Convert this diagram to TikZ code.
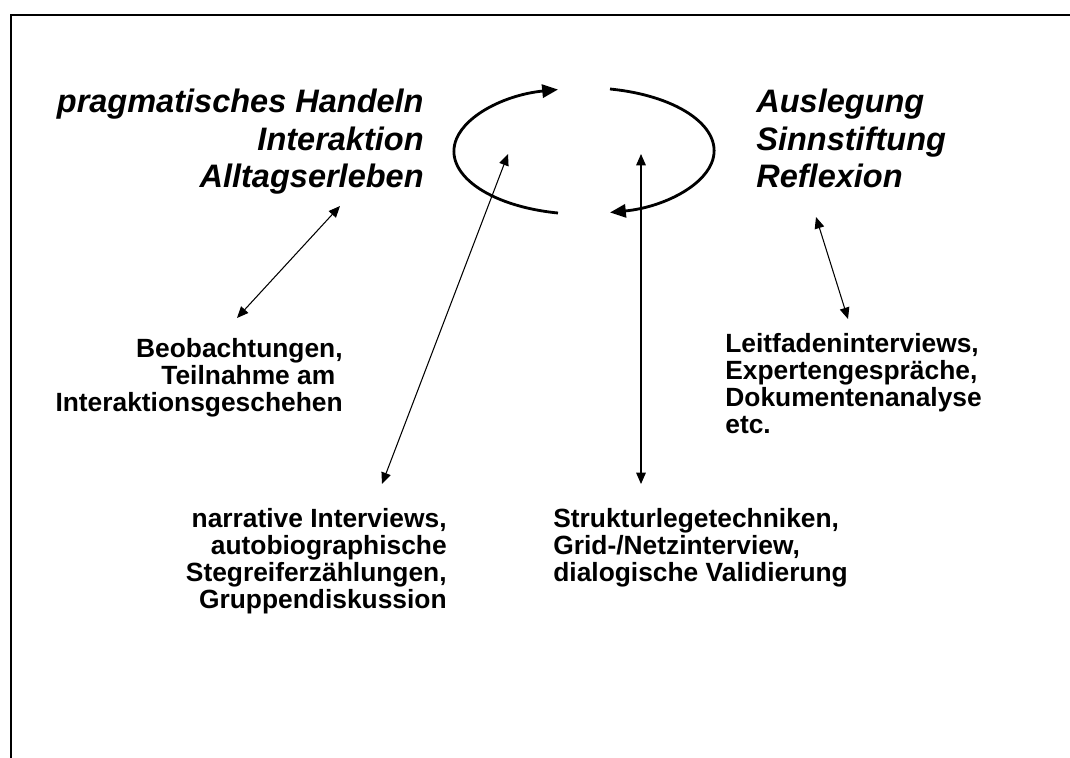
\documentclass[tikz,border=0pt]{standalone}
\usepackage{fontspec}
\setmainfont{Liberation Sans}
\usetikzlibrary{arrows.meta}

\begin{document}
\begin{tikzpicture}[x=0.2mm,y=-0.2mm]
    \tikzstyle{loopline}=[line width=1.6pt,-{Triangle[length=9pt,width=7.5pt]}]
    \tikzstyle{link}=[line width=0.6pt,{Triangle[length=6.5pt,width=5.5pt]}-{Triangle[length=6.5pt,width=5.5pt]}]
    \tikzstyle{topic}=[inner sep=0pt,font=\fontsize{18.5}{21.3}\selectfont\bfseries\itshape]
    \tikzstyle{method}=[inner sep=0pt,font=\fontsize{15}{15.4}\selectfont\bfseries]
    \useasboundingbox (0,0) rectangle (1070,757);
    \draw[line width=1.1pt] (11,760) -- (11,15) -- (1073,15);
    \draw (424,89) node(HANDELN) [topic,anchor=north east,align=right]
      {pragmatisches Handeln\\Interaktion\\Alltagserleben};
    \draw (756,89) node(AUSLEGUNG) [topic,anchor=north west,align=left]
      {Auslegung\\Sinnstiftung\\Reflexion};
    \draw[loopline] (558,213) arc[start angle=101.5,end angle=258.5,x radius=130,y radius=63];
    \draw[loopline] (610,89) arc[start angle=-78.5,end angle=78.5,x radius=130,y radius=63];
    \draw (343,338) node(BEOB) [method,anchor=north east,align=right]
      {Beobachtungen,\\Teilnahme am\kern0.28em\\Interaktionsgeschehen};
    \draw (725,333) node(LEITF) [method,anchor=north west,align=left]
      {Leitfadeninterviews,\\Expertengespräche,\\Dokumentenanalyse\\etc.};
    \draw (447,508) node(NARR) [method,anchor=north east,align=right]
      {narrative Interviews,\\autobiographische\\Stegreiferzählungen,\\Gruppendiskussion};
    \draw (553,508) node(STRUKT) [method,anchor=north west,align=left]
      {Strukturlegetechniken,\\Grid-/Netzinterview,\\dialogische Validierung};
    \coordinate (HANDELNa) at (340,206);
    \coordinate (BEOBa) at (237,318);
    \coordinate (LOOPa) at (508,154);
    \coordinate (NARRa) at (382,484);
    \coordinate (LOOPb) at (641,154);
    \coordinate (STRUKTa) at (641,484);
    \coordinate (AUSLEGUNGa) at (816,217);
    \coordinate (LEITFa) at (848,319);
    \draw[link] (HANDELNa) -- (BEOBa);
    \draw[link] (LOOPa) -- (NARRa);
    \draw[link] (LOOPb) -- (STRUKTa);
    \draw[link] (AUSLEGUNGa) -- (LEITFa);
\end{tikzpicture}
\end{document}
